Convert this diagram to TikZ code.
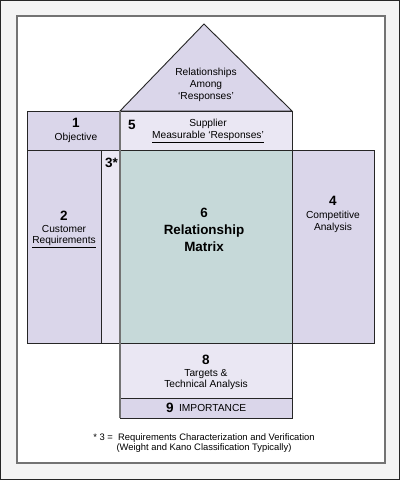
\documentclass[tikz,border=0pt]{standalone}
\usepackage{fontspec}
\setmainfont{Liberation Sans}
\usetikzlibrary{positioning}
\definecolor{lilac}{HTML}{DAD6EA}
\definecolor{pale}{HTML}{EAE7F3}
\definecolor{sage}{HTML}{C6D9D9}
\definecolor{mat}{HTML}{F4F4F4}
\tikzset{
  cell/.style={draw=black!85,line width=0.9pt},
  num/.style={font=\bfseries\fontsize{13.5}{15}\selectfont,inner sep=0pt},
  big/.style={font=\bfseries\fontsize{13.4}{17}\selectfont,align=center,inner sep=0pt},
  lbl/.style={font=\fontsize{10.2}{11.8}\selectfont,align=center,inner sep=0pt},
  note/.style={font=\fontsize{9.4}{10.8}\selectfont,align=center,inner sep=0pt}
}
\begin{document}
\begin{tikzpicture}[x=1pt,y=-1pt]
\useasboundingbox (0,0) rectangle (400,480);
% frame
\draw[fill=mat,draw=black!85,line width=1.2pt] (0.6,0.6) rectangle (399.4,479.4);
\draw[fill=white,draw=black!55,line width=1.3pt] (17,16) rectangle (385,463);
% roof and the cells
\draw[cell,fill=lilac] (120,111) -- (204,24) -- (292,111) -- cycle;
\draw[cell,fill=lilac] (27,111) rectangle (120,150);
\draw[cell,fill=pale] (120,111) rectangle (292,150);
\draw[cell,fill=lilac] (27,150) rectangle (101,343);
\draw[cell,fill=pale] (101,150) rectangle (120,343);
\draw[cell,fill=sage] (120,150) rectangle (292,343);
\draw[cell,fill=lilac] (292,150) rectangle (374,343);
\draw[cell,fill=pale] (120,343) rectangle (292,398);
\draw[cell,fill=lilac] (120,398) rectangle (292,418);
\draw[draw=black!55,line width=1.8pt] (120,111) -- (120,418);
% labels
\node[lbl] (roof) at (206,85) {Relationships\\Among\\`Responses'};
\node[num] (n1) at (76,123) {1};
\node[lbl] (obj) at (76,138) {Objective};
\node[num] (n5) at (132,125) {5};
\node[lbl] (supp) at (208,131) {Supplier\\\underline{Measurable `Responses'}};
\node[num] (n2) at (64,216) {2};
\node[lbl] (cust) at (64,236.5) {Customer\\\underline{Requirements}};
\node[num] (n3) at (111.5,163) {3*};
\node[big] (mtx) at (204,229.5) {6\\Relationship\\Matrix};
\node[num] (n4) at (333,201) {4};
\node[lbl] (comp) at (333,221.5) {Competitive\\Analysis};
\node[num] (n8) at (206,360) {8};
\node[lbl] (targ) at (206,379.5) {Targets \&\\Technical Analysis};
\node[num] (n9) at (170,408) {9};
\node[lbl,right=5pt of n9] (imp) {IMPORTANCE};
\node[note] (foot) at (204,443) {* 3 = \ Requirements Characterization and Verification\\(Weight and Kano Classification Typically)};
\end{tikzpicture}
\end{document}
